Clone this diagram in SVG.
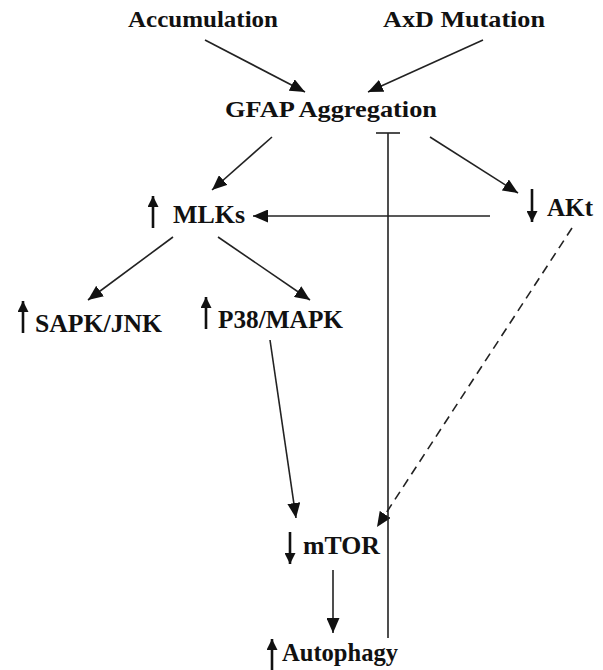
<svg xmlns="http://www.w3.org/2000/svg" width="603" height="670" viewBox="0 0 603 670">
  <defs>
    <marker id="head" viewBox="0 0 15 13" refX="15" refY="6.5" markerWidth="15" markerHeight="13" markerUnits="userSpaceOnUse" orient="auto">
      <path d="M0,0 L15,6.5 L0,13 Z" fill="#111"/>
    </marker>
    <marker id="tick" viewBox="0 0 11 11" refX="11" refY="5.5" markerWidth="11" markerHeight="11" markerUnits="userSpaceOnUse" orient="auto">
      <path d="M0,0 L11,5.5 L0,11 Z" fill="#111"/>
    </marker>
  </defs>
  <style>
    .lbl { font-family: "Liberation Serif", "Times New Roman", serif; font-weight: bold; font-size: 24px; fill: #111; }
    .big { font-size: 25px; }
    .edge { stroke: #222; stroke-width: 1.6; fill: none; }
    .dash { stroke-dasharray: 9 6; }
    .ind { stroke: #111; stroke-width: 2.6; fill: none; }
  </style>
  <rect width="603" height="670" fill="#fff"/>

  <g id="connectors">
    <line class="edge" x1="205" y1="40" x2="305" y2="92" marker-end="url(#head)"/>
    <line class="edge" x1="483" y1="40" x2="368" y2="92" marker-end="url(#head)"/>
    <line class="edge" x1="272" y1="137" x2="212" y2="190" marker-end="url(#head)"/>
    <line class="edge" x1="430" y1="137" x2="518" y2="193" marker-end="url(#head)"/>
    <line class="edge" x1="490" y1="216" x2="253" y2="216" marker-end="url(#head)"/>
    <line class="edge" x1="173" y1="237" x2="88" y2="300" marker-end="url(#head)"/>
    <line class="edge" x1="218" y1="237" x2="310" y2="300" marker-end="url(#head)"/>
    <line class="edge" x1="270" y1="340" x2="296" y2="518" marker-end="url(#head)"/>
    <line class="edge dash" x1="572" y1="228" x2="377" y2="527" marker-end="url(#head)"/>
    <line class="edge" x1="333" y1="570" x2="333" y2="633" marker-end="url(#head)"/>
    <!-- inhibition from Autophagy back to GFAP Aggregation -->
    <line class="edge" x1="388" y1="638" x2="388" y2="133"/>
    <line class="edge" x1="376" y1="133" x2="400" y2="133"/>
  </g>

  <g id="accumulation">
    <text class="lbl" x="128" y="27" textLength="150" lengthAdjust="spacingAndGlyphs">Accumulation</text>
  </g>
  <g id="axd-mutation">
    <text class="lbl" x="383" y="27" textLength="162" lengthAdjust="spacingAndGlyphs">AxD Mutation</text>
  </g>
  <g id="gfap-aggregation">
    <text class="lbl" x="225" y="117" textLength="212" lengthAdjust="spacingAndGlyphs">GFAP Aggregation</text>
  </g>
  <g id="mlks">
    <line class="ind" x1="153" y1="228" x2="153" y2="196" marker-end="url(#tick)"/>
    <text class="lbl big" x="173" y="223" textLength="72" lengthAdjust="spacingAndGlyphs">MLKs</text>
  </g>
  <g id="akt">
    <line class="ind" x1="532" y1="189" x2="532" y2="222" marker-end="url(#tick)"/>
    <text class="lbl big" x="547" y="216" textLength="46" lengthAdjust="spacingAndGlyphs">AKt</text>
  </g>
  <g id="sapk-jnk">
    <line class="ind" x1="23" y1="333" x2="23" y2="301" marker-end="url(#tick)"/>
    <text class="lbl big" x="35" y="332" textLength="127" lengthAdjust="spacingAndGlyphs">SAPK/JNK</text>
  </g>
  <g id="p38-mapk">
    <line class="ind" x1="206" y1="329" x2="206" y2="297" marker-end="url(#tick)"/>
    <text class="lbl big" x="218" y="328" textLength="125" lengthAdjust="spacingAndGlyphs">P38/MAPK</text>
  </g>
  <g id="mtor">
    <line class="ind" x1="290" y1="532" x2="290" y2="564" marker-end="url(#tick)"/>
    <text class="lbl big" x="303" y="554" textLength="77" lengthAdjust="spacingAndGlyphs">mTOR</text>
  </g>
  <g id="autophagy">
    <line class="ind" x1="272" y1="670" x2="272" y2="639" marker-end="url(#tick)"/>
    <text class="lbl big" x="282" y="661" textLength="116" lengthAdjust="spacingAndGlyphs">Autophagy</text>
  </g>
</svg>
